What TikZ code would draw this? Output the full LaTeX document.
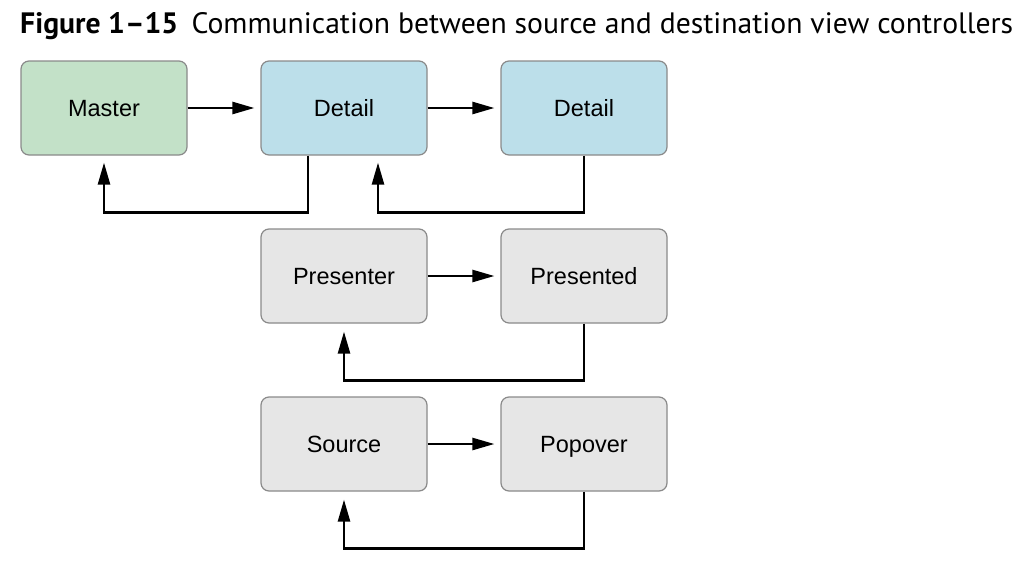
\documentclass[tikz,border=0pt]{standalone}
\usepackage{fontspec}
\setmainfont{Liberation Sans}
\newfontfamily\titlefont{PT Sans}
\usetikzlibrary{arrows.meta}
\definecolor{boxgreen}{HTML}{C3E1C8}
\definecolor{boxblue}{HTML}{BCDFEA}
\definecolor{boxgray}{HTML}{E6E6E6}
\definecolor{boxline}{HTML}{8A8A8A}
\begin{document}
\begin{tikzpicture}[x=1pt,y=-1pt,
  vc/.style={draw=boxline,line width=1.2pt,rounded corners=8pt,minimum width=166pt,minimum height=94pt,inner sep=0pt,text height=20pt,text depth=4pt,font=\fontsize{23.5}{28}\selectfont},
  gbox/.style={vc,fill=boxgreen},
  bbox/.style={vc,fill=boxblue},
  ybox/.style={vc,fill=boxgray},
  arr/.style={line width=2.5pt,-{Triangle[length=22pt,width=12pt]}}]
\useasboundingbox (0,0) rectangle (1036,584);
\node[anchor=base west,inner sep=0pt] (title) at (20,33) {\resizebox{993pt}{21pt}{\titlefont\fontsize{25}{30}\selectfont\textbf{Figure 1–15}\hspace{0.45em}Communication between source and destination view controllers}};
\node[gbox] (m) at (104,108) {Master};
\node[bbox] (d1) at (344,108) {Detail};
\node[bbox] (d2) at (584,108) {Detail};
\node[ybox] (pr) at (344,276) {Presenter};
\node[ybox] (pd) at (584,276) {Presented};
\node[ybox] (s) at (344,444) {Source};
\node[ybox] (p) at (584,444) {Popover};
\draw[arr] (m.east) -- ([xshift=-6pt]d1.west);
\draw[arr] (d1.east) -- ([xshift=-6pt]d2.west);
\draw[arr] (pr.east) -- ([xshift=-6pt]pd.west);
\draw[arr] (s.east) -- ([xshift=-6pt]p.west);
\draw[arr] ([xshift=-36pt]d1.south) -- ++(0,57) -| ([yshift=-7pt]m.south);
\draw[arr] (d2.south) -- ++(0,57) -| ([xshift=34pt,yshift=-7pt]d1.south);
\draw[arr] (pd.south) -- ++(0,57) -| ([yshift=-8pt]pr.south);
\draw[arr] (p.south) -- ++(0,57) -| ([yshift=-8pt]s.south);
\end{tikzpicture}
\end{document}
